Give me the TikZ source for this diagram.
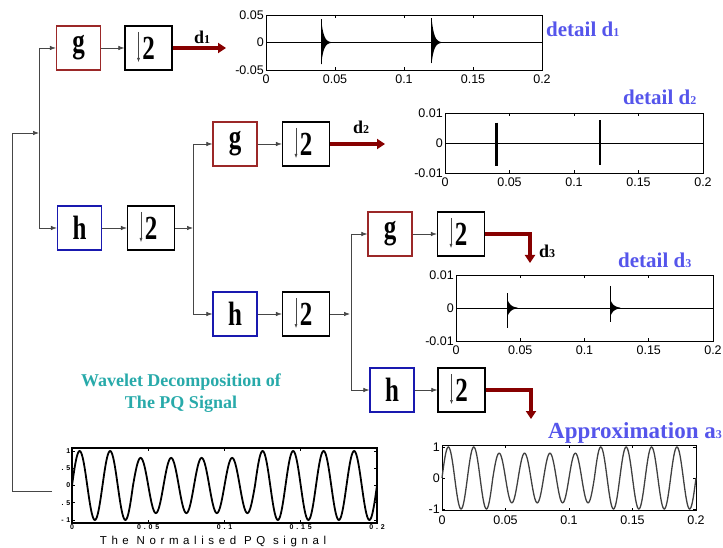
\documentclass[tikz,border=0pt]{standalone}
\usepackage{fontspec}
\usepackage{graphicx}
\setmainfont{Liberation Serif}
\newfontfamily\ticksf{Liberation Sans}
\newfontfamily\spacedsf[LetterSpace=40]{Liberation Sans}
\usetikzlibrary{arrows.meta}
\definecolor{linegray}{RGB}{70,70,70}
\definecolor{labelblue}{RGB}{85,85,235}
\definecolor{tealc}{RGB}{40,170,170}
\definecolor{arrowred}{RGB}{135,0,0}
\definecolor{boxred}{RGB}{155,40,40}
\definecolor{boxblue}{RGB}{25,25,175}
\newcommand\boxtxt[1]{\scalebox{1}[1.35]{\bfseries\fontsize{25}{25}\selectfont #1}}
\newcommand\smalld[1]{{\fontsize{12}{12}\selectfont #1}}
\newcommand\dsarrow[1]{\draw[line width=0.5pt, draw=linegray, -{Latex[length=4pt,width=3pt]}] ([shift={(-10pt,16pt)}]#1.center) -- ([shift={(-10pt,-14pt)}]#1.center);}
\tikzset{
  filt/.style={draw, line width=1.3pt, minimum width=44pt, minimum height=44pt, inner sep=0pt},
  dnbox/.style={draw=black, line width=1.3pt, minimum width=47pt, minimum height=44pt, inner sep=0pt},
  conn/.style={draw=linegray, line width=0.7pt, -{Latex[length=6pt,width=4.5pt]}},
  wire/.style={draw=linegray, line width=0.7pt},
  redarr/.style={draw=arrowred, line width=3.2pt, -{Triangle[length=8pt,width=10pt]}},
  dlab/.style={font=\bfseries\fontsize{18}{18}\selectfont, anchor=base west, inner sep=0pt},
  ptitle/.style={font=\bfseries\fontsize{21}{21}\selectfont, text=labelblue, anchor=base west, inner sep=0pt},
  tick/.style={font=\ticksf\fontsize{12.5}{12.5}\selectfont, inner sep=1pt},
  xtick/.style={tick, anchor=north, yshift=-4pt},
  ytick/.style={tick, anchor=east, xshift=-1pt},
  tinytick/.style={font=\spacedsf\bfseries\fontsize{7}{7}\selectfont, inner sep=1.5pt},
  frame/.style={draw=black, line width=0.8pt},
}
\begin{document}
\begin{tikzpicture}[x=1pt, y={(0pt,-1pt)}]
\useasboundingbox (0,0) rectangle (723,548);

% ---------- boxes ----------
\node[filt, draw=boxred]  (g1) at (78.5,48)  {\boxtxt{g}};
\node[dnbox]              (s1) at (148.5,48) {\boxtxt{2}};
\node[filt, draw=boxblue] (h1) at (79.5,228) {\boxtxt{h}};
\node[dnbox]              (s2) at (151,228)  {\boxtxt{2}};
\node[filt, draw=boxred]  (g2) at (235,144)  {\boxtxt{g}};
\node[dnbox]              (s3) at (306,144)  {\boxtxt{2}};
\node[filt, draw=boxblue] (h2) at (235,314)  {\boxtxt{h}};
\node[dnbox]              (s4) at (306,314)  {\boxtxt{2}};
\node[filt, draw=boxred]  (g3) at (390,234)  {\boxtxt{g}};
\node[dnbox]              (s5) at (461,234)  {\boxtxt{2}};
\node[filt, draw=boxblue] (h3) at (392,390)  {\boxtxt{h}};
\node[dnbox]              (s6) at (461.5,390) {\boxtxt{2}};
\dsarrow{s1}\dsarrow{s2}\dsarrow{s3}\dsarrow{s4}\dsarrow{s5}\dsarrow{s6}

% ---------- connectors ----------
\coordinate (in0) at (52,491);
\coordinate (inL) at (12,491);
\coordinate (inT) at (12,133);
\coordinate (j0)  at (39,133);
\coordinate (j0t) at (39,48);
\coordinate (j0b) at (39,228);
\draw[conn] (in0) -- (inL) -- (inT) -- (j0);
\draw[wire] (j0t) -- (j0b);
\draw[conn] (j0t) -- (g1.west);
\draw[conn] (j0b) -- (h1.west);
\draw[conn] (g1) -- (s1);
\draw[conn] (h1) -- (s2);

\coordinate (j1)  at (193,228);
\coordinate (j1t) at (193,144);
\coordinate (j1b) at (193,314);
\draw[conn] (s2.east) -- (j1);
\draw[wire] (j1t) -- (j1b);
\draw[conn] (j1t) -- (g2.west);
\draw[conn] (j1b) -- (h2.west);
\draw[conn] (g2) -- (s3);
\draw[conn] (h2) -- (s4);

\coordinate (j2)  at (350,314);
\coordinate (j2t) at (351,234);
\coordinate (j2b) at (351,390);
\draw[conn] (s4.east) -- (j2);
\draw[wire] (j2t) -- (j2b);
\draw[conn] (j2t) -- (g3.west);
\draw[conn] (j2b) -- (h3.west);
\draw[conn] (g3) -- (s5);
\draw[conn] (h3) -- (s6);

% ---------- red outputs ----------
\coordinate (e1) at (226,48);
\coordinate (e2) at (385,144);
\coordinate (c3) at (530,234);
\coordinate (e3) at (530,263);
\coordinate (c4) at (531,390);
\coordinate (e4) at (531,419);
\draw[redarr] (s1.east) -- (e1);
\draw[redarr] (s3.east) -- (e2);
\draw[redarr] (s5.east) -- (c3) -- (e3);
\draw[redarr] (s6.east) -- (c4) -- (e4);
\node[dlab] (ld1) at (194,44)  {d\smalld{1}};
\node[dlab] (ld2) at (353,134) {d\smalld{2}};
\node[dlab] (ld3) at (539,258) {d\smalld{3}};

% ---------- titles ----------
\node[ptitle] (t1) at (546,37)  {detail d\smalld{1}};
\node[ptitle] (t2) at (623,105) {detail d\smalld{2}};
\node[ptitle] (t3) at (618,267) {detail d\smalld{3}};
\node[ptitle, font=\bfseries\fontsize{23}{23}\selectfont] (t4) at (548,438) {Approximation a\smalld{3}};
\node[font=\bfseries\fontsize{18}{22}\selectfont, text=tealc, align=center] (ttl) at (181,393)
  {Wavelet Decomposition of\\The PQ Signal};
\node[font=\spacedsf\fontsize{11.5}{11.5}\selectfont, anchor=base] (cap) at (213,544) {The Normalised PQ signal};

% ---------- plot d1 ----------
\begin{scope}[shift={(266pt,-42.5pt)}, x=1.38pt, y=0.55pt]
  \draw[frame] (0,-50) rectangle (200,50);
  \foreach \tx in {50,100,150} {\draw[frame] (\tx,-50) -- ++(0pt,3pt); \draw[frame] (\tx,50) -- ++(0pt,-3pt);}
  \draw[frame] (0,0) -- (200,0);
  \foreach \tx/\lb in {0/0,50/0.05,100/0.1,150/0.15,200/0.2} \node[xtick] at (\tx,-50) {\lb};
  \foreach \vy/\lb in {50/0.05,0/0,-50/-0.05} \node[ytick] at (0,\vy) {\lb};
  \foreach \cx/\up/\dn in {40/42/-40, 120/44/-38} {
    \fill plot[domain=\cx:\cx+9, samples=40] (\x,{\up*exp(-(\x-\cx)/1.8)}) -- plot[domain=\cx+9:\cx, samples=40] (\x,{\dn*exp(-(\x-\cx)/1.8)}) -- cycle;
    \draw[line width=1.2pt] (\cx,\up) -- (\cx,\dn);
  }
\end{scope}

% ---------- plot d2 ----------
\begin{scope}[shift={(445pt,-143pt)}, x=1.29pt, y=3pt]
  \draw[frame] (0,-10) rectangle (200,10);
  \foreach \tx in {50,100,150} {\draw[frame] (\tx,-10) -- ++(0pt,3pt); \draw[frame] (\tx,10) -- ++(0pt,-3pt);}
  \draw[frame] (0,0) -- (200,0);
  \foreach \tx/\lb in {0/0,50/0.05,100/0.1,150/0.15,200/0.2} \node[xtick] at (\tx,-10) {\lb};
  \foreach \vy/\lb in {10/0.01,0/0,-10/-0.01} \node[ytick] at (0,\vy) {\lb};
  \draw[line width=2.5pt] (40,6.8) -- (40,-7.6);
  \draw[line width=2.5pt] (120,7.5) -- (120,-7.2);
\end{scope}

% ---------- plot d3 ----------
\begin{scope}[shift={(456pt,-308pt)}, x=1.285pt, y=3.3pt]
  \draw[frame] (0,-10) rectangle (200,10);
  \foreach \tx in {50,100,150} {\draw[frame] (\tx,-10) -- ++(0pt,3pt); \draw[frame] (\tx,10) -- ++(0pt,-3pt);}
  \draw[frame] (0,0) -- (200,0);
  \foreach \tx/\lb in {0/0,50/0.05,100/0.1,150/0.15,200/0.2} \node[xtick] at (\tx,-10) {\lb};
  \foreach \vy/\lb in {10/0.01,0/0,-10/-0.01} \node[ytick] at (0,\vy) {\lb};
  \foreach \cx/\up/\dn in {40/4.5/-6, 120/6.7/-4.2} {
    \fill plot[domain=\cx:\cx+8, samples=30] (\x,{2.6*exp(-(\x-\cx)/2.6)}) -- plot[domain=\cx+8:\cx, samples=30] (\x,{-2.6*exp(-(\x-\cx)/2.6)}) -- cycle;
    \draw[line width=1.3pt] (\cx,\up) -- (\cx,\dn);
  }
\end{scope}

% ---------- plot a3 ----------
\begin{scope}[shift={(442pt,-478pt)}, x=1.27pt, y=31pt]
  \draw[frame] (0,-1.06) rectangle (200,1.06);
  \foreach \tx in {50,100,150} {\draw[frame] (\tx,-1.06) -- ++(0pt,3pt); \draw[frame] (\tx,1.06) -- ++(0pt,-3pt);}
  \foreach \vy in {-1,0,1} {\draw[frame] (0,\vy) -- ++(3pt,0pt); \draw[frame] (200,\vy) -- ++(-3pt,0pt);}
  \foreach \tx/\lb in {0/0,50/0.05,100/0.1,150/0.15,200/0.2} \node[xtick] at (\tx,-1.06) {\lb};
  \foreach \vy/\lb in {1/1,0/0,-1/-1} \node[ytick] at (0,\vy) {\lb};
  \draw[line width=1.3pt, draw=black!75] plot[domain=0:200, samples=401, smooth] (\x,{(1-0.2*(\x>40)*(\x<120))*sin(18*\x)});
\end{scope}

% ---------- input plot ----------
\begin{scope}[shift={(72pt,-485.5pt)}, x=1.525pt, y=34.5pt]
  \draw[frame, line width=1.2pt] (0,-1.087) rectangle (200,1.087);
  \foreach \tx in {50,100,150} {\draw[frame] (\tx,-1.087) -- ++(0pt,3pt); \draw[frame] (\tx,1.087) -- ++(0pt,-3pt);}
  \foreach \vy in {-1,-0.5,0,0.5,1} {\draw[frame] (0,\vy) -- ++(3pt,0pt); \draw[frame] (200,\vy) -- ++(-3pt,0pt);}
  \foreach \tx/\lb in {0/0,50/0.05,100/0.1,150/0.15,200/0.2} \node[tinytick,anchor=north] at (\tx,-1.087) {\lb};
  \foreach \vy/\lb in {1/1,0.5/.5,0/0,-0.5/.5,-1/-1} \node[tinytick,anchor=east] at (0,\vy) {\lb};
  \draw[line width=1.8pt] plot[domain=0:200, samples=401, smooth] (\x,{(1-0.2*(\x>40)*(\x<120))*sin(18*\x)});
\end{scope}
\end{tikzpicture}
\end{document}
